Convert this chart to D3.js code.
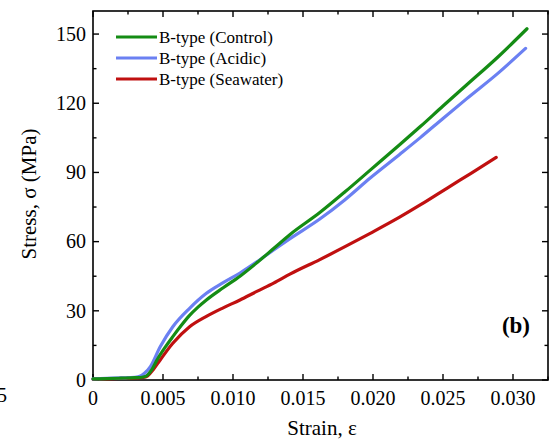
<!DOCTYPE html>
<html><head><meta charset="utf-8">
<script src="https://cdn.jsdelivr.net/npm/d3@7"></script>
<style>body{margin:0;background:#fff}svg{display:block}text{font-family:"Liberation Serif","Times New Roman",serif;fill:#000}</style>
</head><body>
<svg id="c" width="550" height="442"></svg>
<script>
const seriesNames = ["B-type (Control)", "B-type (Acidic)", "B-type (Seawater)"];
const seriesColors = ["#148c14", "#6b80f2", "#c01010"];
const controlData = [[0,0.5],[0.001,0.6],[0.002,0.8],[0.003,1.0],[0.0035,1.2],[0.0038,1.7],[0.0042,4.5],[0.0046,9],[0.0052,14.6],[0.0057,18.8],[0.0063,23.6],[0.0069,28.0],[0.0075,31.6],[0.0081,34.7],[0.0093,40],[0.0105,45.0],[0.0117,50.8],[0.0129,57.0],[0.0141,63.2],[0.0162,72.6],[0.0180,81.6],[0.0198,91.0],[0.0219,102.0],[0.0234,110.0],[0.0250,118.8],[0.0267,128.0],[0.0290,140.5],[0.0310,152.3]];
const acidicData = [[0,0.5],[0.001,0.7],[0.002,0.9],[0.003,1.2],[0.0034,1.8],[0.0037,3],[0.0041,5.8],[0.0048,14.4],[0.0057,23.1],[0.0069,31.1],[0.0081,37.6],[0.0093,42.2],[0.0105,46.4],[0.0117,51.2],[0.0129,56.4],[0.0141,61.4],[0.0162,69.8],[0.0180,78.2],[0.0198,87.6],[0.0219,97.8],[0.0234,105.2],[0.0250,113.4],[0.0267,122.0],[0.0290,133.4],[0.0309,143.8]];
const seawaterData = [[0,0.4],[0.001,0.5],[0.002,0.7],[0.003,0.9],[0.0036,1.1],[0.0039,1.8],[0.0043,4.5],[0.0048,8.7],[0.0057,15.9],[0.0069,23.1],[0.0081,27.6],[0.0093,31.3],[0.0105,34.7],[0.0117,38.4],[0.0129,42.0],[0.0141,46.0],[0.0162,52.2],[0.0180,57.8],[0.0198,63.6],[0.0219,70.6],[0.0234,76.0],[0.0255,84.0],[0.0270,89.6],[0.0288,96.5]];
const xTicks = [0, 0.005, 0.010, 0.015, 0.020, 0.025, 0.030];
const xTickLabels = ["0", "0.005", "0.010", "0.015", "0.020", "0.025", "0.030"];
const yTicks = [0, 30, 60, 90, 120, 150];
const xMinor = d3.range(0.0025, 0.0326, 0.005);
const yMinor = d3.range(15, 160, 30);

const svg = d3.select("#c");
const L = 93, R = 548, T = 11, B = 380;
const x = d3.scaleLinear().domain([0, 0.0325]).range([L, R]);
const y = d3.scaleLinear().domain([0, 160]).range([B, T]);

// frame
svg.append("rect").attr("x", L).attr("y", T).attr("width", R - L).attr("height", B - T)
  .attr("fill", "none").attr("stroke", "#000").attr("stroke-width", 1.6);

const tk = svg.append("g").attr("stroke", "#000").attr("stroke-width", 1.4);
xTicks.forEach(v => {
  tk.append("line").attr("x1", x(v)).attr("x2", x(v)).attr("y1", B).attr("y2", B - 6);
  tk.append("line").attr("x1", x(v)).attr("x2", x(v)).attr("y1", T).attr("y2", T + 6);
});
xMinor.forEach(v => {
  tk.append("line").attr("x1", x(v)).attr("x2", x(v)).attr("y1", B).attr("y2", B - 3.5);
  tk.append("line").attr("x1", x(v)).attr("x2", x(v)).attr("y1", T).attr("y2", T + 3.5);
});
yTicks.forEach(v => {
  tk.append("line").attr("x1", L).attr("x2", L + 6).attr("y1", y(v)).attr("y2", y(v));
  tk.append("line").attr("x1", R).attr("x2", R - 6).attr("y1", y(v)).attr("y2", y(v));
});
yMinor.forEach(v => {
  tk.append("line").attr("x1", L).attr("x2", L + 3.5).attr("y1", y(v)).attr("y2", y(v));
  tk.append("line").attr("x1", R).attr("x2", R - 3.5).attr("y1", y(v)).attr("y2", y(v));
});

// tick labels
xTicks.forEach((v, i) => {
  svg.append("text").attr("x", x(v)).attr("y", 405).attr("text-anchor", "middle")
    .attr("font-size", 20).text(xTickLabels[i]);
});
yTicks.forEach(v => {
  svg.append("text").attr("x", 86).attr("y", y(v)).attr("dy", "0.34em").attr("text-anchor", "end")
    .attr("font-size", 20).text(v);
});
// fragment of neighbouring panel label (cut off in the reference too)
svg.append("text").attr("x", 7).attr("y", 402).attr("text-anchor", "end").attr("font-size", 20).text("5");

// axis titles
svg.append("text").attr("x", 322).attr("y", 435).attr("text-anchor", "middle").attr("font-size", 21).text("Strain, ε");
svg.append("text").attr("transform", "translate(36,194) rotate(-90)").attr("text-anchor", "middle")
  .attr("font-size", 21).text("Stress, σ (MPa)");

// curves
const line = d3.line().x(d => x(d[0])).y(d => y(d[1])).curve(d3.curveMonotoneX);
[seawaterData, acidicData, controlData].forEach((data, k) => {
  const idx = 2 - k;
  svg.append("path").datum(data).attr("d", line).attr("fill", "none")
    .attr("stroke", seriesColors[idx]).attr("stroke-width", 3.2)
    .attr("stroke-linecap", "round").attr("stroke-linejoin", "round");
});

// legend
seriesNames.forEach((n, i) => {
  const yy = 37 + i * 21;
  svg.append("line").attr("x1", 116).attr("x2", 157).attr("y1", yy).attr("y2", yy)
    .attr("stroke", seriesColors[i]).attr("stroke-width", 3);
  svg.append("text").attr("x", 159).attr("y", yy).attr("dy", "0.33em").attr("font-size", 17).text(n);
});

// panel label
svg.append("text").attr("x", 530).attr("y", 333).attr("text-anchor", "end").attr("font-size", 23)
  .attr("font-weight", "bold").text("(b)");
</script>
</body></html>
